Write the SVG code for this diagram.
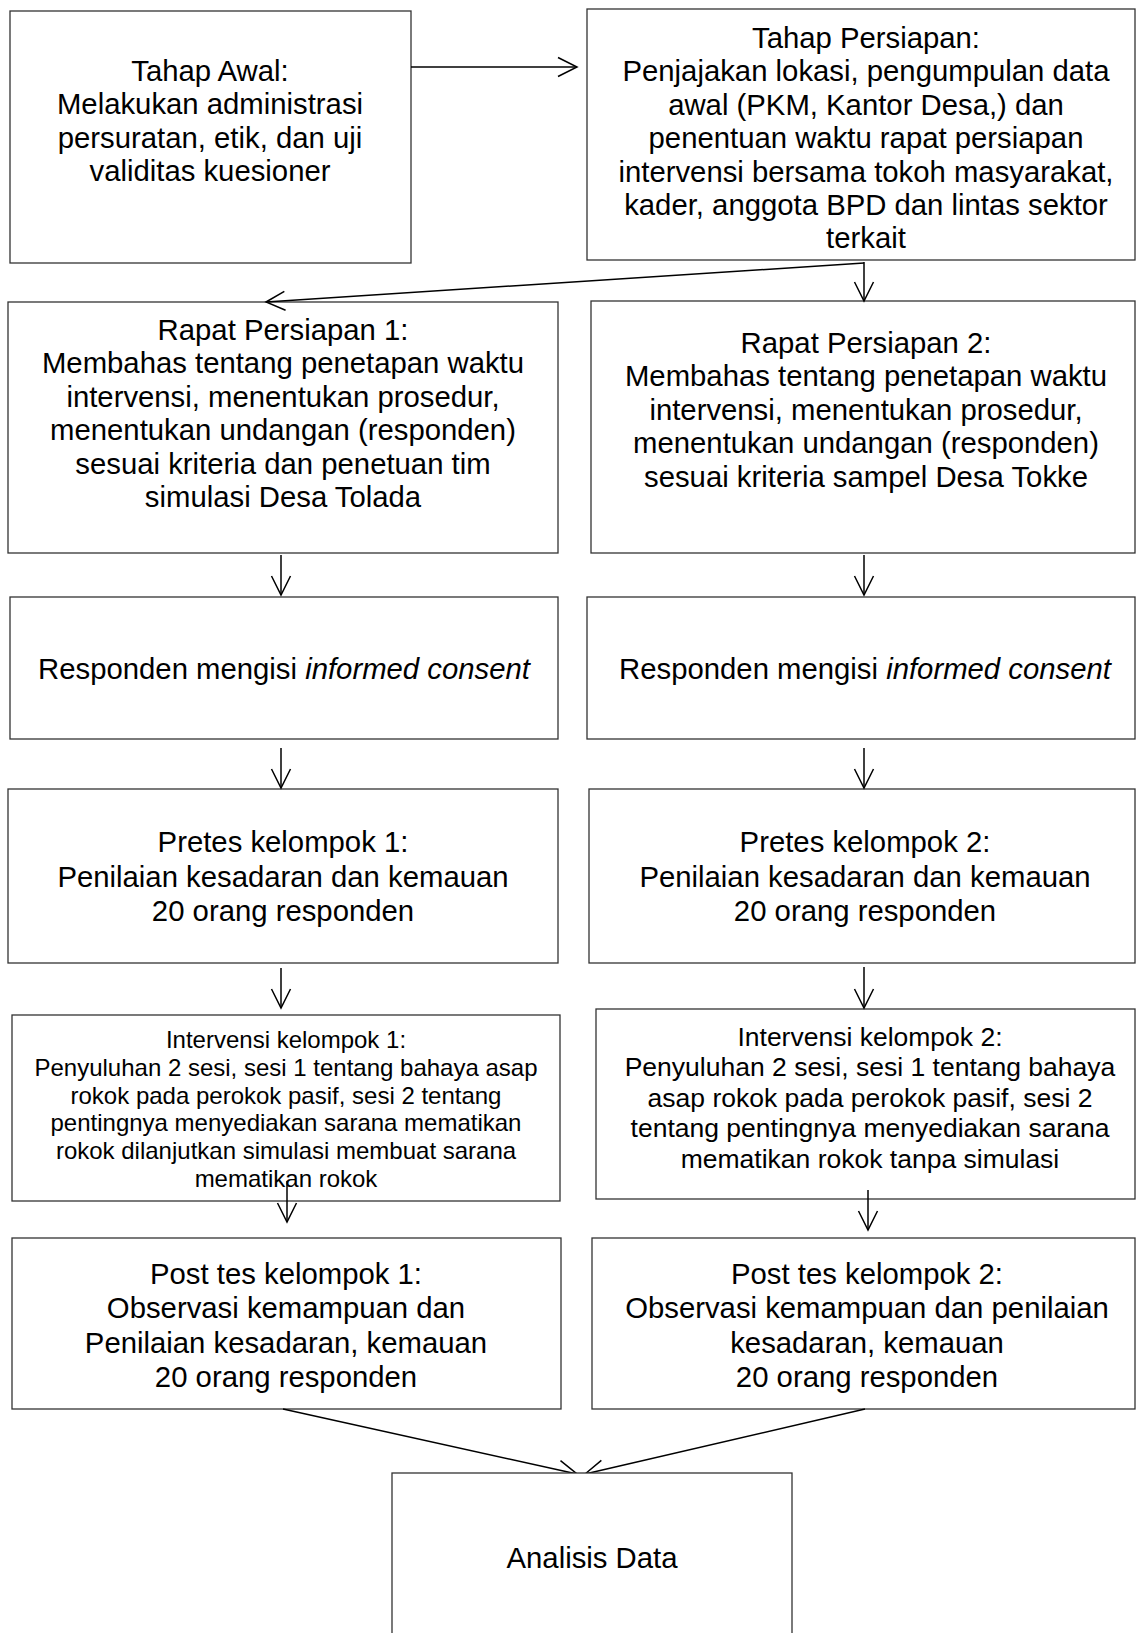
<svg xmlns="http://www.w3.org/2000/svg" width="1136" height="1633" viewBox="0 0 1136 1633">
<defs>
<style>
.box{fill:#fff;stroke:#333;stroke-width:1.3}
.t{font-family:"Liberation Sans",Arial,Helvetica,sans-serif;font-size:29.3px;fill:#000;text-anchor:middle}
.s24{font-size:24px}
.s26{font-size:26.5px}
.c{fill:none;stroke:#000;stroke-width:1.5}
</style>
<marker id="ah" markerUnits="userSpaceOnUse" markerWidth="26" markerHeight="26" refX="19" refY="9.5" orient="auto" overflow="visible">
<path d="M0,0 L19,9.5 L0,19" fill="none" stroke="#000" stroke-width="1.5"/>
</marker>
</defs>
<rect width="1136" height="1633" fill="#fff"/>

<g id="tahap-awal">
<rect class="box" x="10" y="11" width="401" height="252"/>
<text class="t"><tspan x="210" y="81">Tahap Awal:</tspan><tspan x="210" y="114.4">Melakukan administrasi</tspan><tspan x="210" y="147.8">persuratan, etik, dan uji</tspan><tspan x="210" y="181.2">validitas kuesioner</tspan></text>
</g>

<g id="tahap-persiapan">
<rect class="box" x="587" y="9" width="548" height="251"/>
<text class="t"><tspan x="866" y="48">Tahap Persiapan:</tspan><tspan x="866" y="81.4">Penjajakan lokasi, pengumpulan data</tspan><tspan x="866" y="114.8">awal (PKM, Kantor Desa,) dan</tspan><tspan x="866" y="148.2">penentuan waktu rapat persiapan</tspan><tspan x="866" y="181.6">intervensi bersama tokoh masyarakat,</tspan><tspan x="866" y="215">kader, anggota BPD dan lintas sektor</tspan><tspan x="866" y="248.4">terkait</tspan></text>
</g>

<g id="rapat-1">
<rect class="box" x="8" y="302" width="550" height="251"/>
<text class="t"><tspan x="283" y="340">Rapat Persiapan 1:</tspan><tspan x="283" y="373.4">Membahas tentang penetapan waktu</tspan><tspan x="283" y="406.8">intervensi, menentukan prosedur,</tspan><tspan x="283" y="440.2">menentukan undangan (responden)</tspan><tspan x="283" y="473.6">sesuai kriteria dan penetuan tim</tspan><tspan x="283" y="507">simulasi Desa Tolada</tspan></text>
</g>

<g id="rapat-2">
<rect class="box" x="591" y="301" width="544" height="252"/>
<text class="t"><tspan x="866" y="353">Rapat Persiapan 2:</tspan><tspan x="866" y="386.4">Membahas tentang penetapan waktu</tspan><tspan x="866" y="419.8">intervensi, menentukan prosedur,</tspan><tspan x="866" y="453.2">menentukan undangan (responden)</tspan><tspan x="866" y="486.6">sesuai kriteria sampel Desa Tokke</tspan></text>
</g>

<g id="responden-1">
<rect class="box" x="10" y="597" width="548" height="142"/>
<text class="t" x="284" y="679">Responden mengisi <tspan font-style="italic">informed consent</tspan></text>
</g>

<g id="responden-2">
<rect class="box" x="587" y="597" width="548" height="142"/>
<text class="t" x="865" y="679">Responden mengisi <tspan font-style="italic">informed consent</tspan></text>
</g>

<g id="pretes-1">
<rect class="box" x="8" y="789" width="550" height="174"/>
<text class="t"><tspan x="283" y="852">Pretes kelompok 1:</tspan><tspan x="283" y="886.5">Penilaian kesadaran dan kemauan</tspan><tspan x="283" y="921">20 orang responden</tspan></text>
</g>

<g id="pretes-2">
<rect class="box" x="589" y="789" width="546" height="174"/>
<text class="t"><tspan x="865" y="852">Pretes kelompok 2:</tspan><tspan x="865" y="886.5">Penilaian kesadaran dan kemauan</tspan><tspan x="865" y="921">20 orang responden</tspan></text>
</g>

<g id="intervensi-1">
<rect class="box" x="12" y="1015" width="548" height="186"/>
<text class="t s24"><tspan x="286" y="1048">Intervensi kelompok 1:</tspan><tspan x="286" y="1075.8">Penyuluhan 2 sesi, sesi 1 tentang bahaya asap</tspan><tspan x="286" y="1103.6">rokok pada perokok pasif, sesi 2 tentang</tspan><tspan x="286" y="1131.4">pentingnya menyediakan sarana mematikan</tspan><tspan x="286" y="1159.2">rokok dilanjutkan simulasi membuat sarana</tspan><tspan x="286" y="1187">mematikan rokok</tspan></text>
</g>

<g id="intervensi-2">
<rect class="box" x="596" y="1009" width="539" height="190"/>
<text class="t s26"><tspan x="870" y="1045.5">Intervensi kelompok 2:</tspan><tspan x="870" y="1076">Penyuluhan 2 sesi, sesi 1 tentang bahaya</tspan><tspan x="870" y="1106.5">asap rokok pada perokok pasif, sesi 2</tspan><tspan x="870" y="1137">tentang pentingnya menyediakan sarana</tspan><tspan x="870" y="1167.5">mematikan rokok tanpa simulasi</tspan></text>
</g>

<g id="posttes-1">
<rect class="box" x="12" y="1238" width="549" height="171"/>
<text class="t"><tspan x="286" y="1284">Post tes kelompok 1:</tspan><tspan x="286" y="1318.3">Observasi kemampuan dan</tspan><tspan x="286" y="1352.6">Penilaian kesadaran, kemauan</tspan><tspan x="286" y="1387">20 orang responden</tspan></text>
</g>

<g id="posttes-2">
<rect class="box" x="592" y="1238" width="543" height="171"/>
<text class="t"><tspan x="867" y="1284">Post tes kelompok 2:</tspan><tspan x="867" y="1318.3">Observasi kemampuan dan penilaian</tspan><tspan x="867" y="1352.6">kesadaran, kemauan</tspan><tspan x="867" y="1387">20 orang responden</tspan></text>
</g>

<g id="connectors">
<path class="c" d="M411,67 H577" marker-end="url(#ah)"/>
<path class="c" d="M864,262 V301" marker-end="url(#ah)"/>
<path class="c" d="M864,263 L266,302" marker-end="url(#ah)"/>
<path class="c" d="M281,555 V595" marker-end="url(#ah)"/>
<path class="c" d="M864,555 V595" marker-end="url(#ah)"/>
<path class="c" d="M281,748 V788" marker-end="url(#ah)"/>
<path class="c" d="M864,748 V788" marker-end="url(#ah)"/>
<path class="c" d="M281,968 V1008" marker-end="url(#ah)"/>
<path class="c" d="M864,967 V1008" marker-end="url(#ah)"/>
<path class="c" d="M287,1181 V1222" marker-end="url(#ah)"/>
<path class="c" d="M868,1190 V1230" marker-end="url(#ah)"/>
<path class="c" d="M283,1409 L577,1474" marker-end="url(#ah)"/>
<path class="c" d="M865,1409 L585,1474" marker-end="url(#ah)"/>
</g>

<g id="analisis-data">
<rect class="box" x="392" y="1473" width="400" height="200"/>
<text class="t" x="592" y="1568">Analisis Data</text>
</g>
</svg>
